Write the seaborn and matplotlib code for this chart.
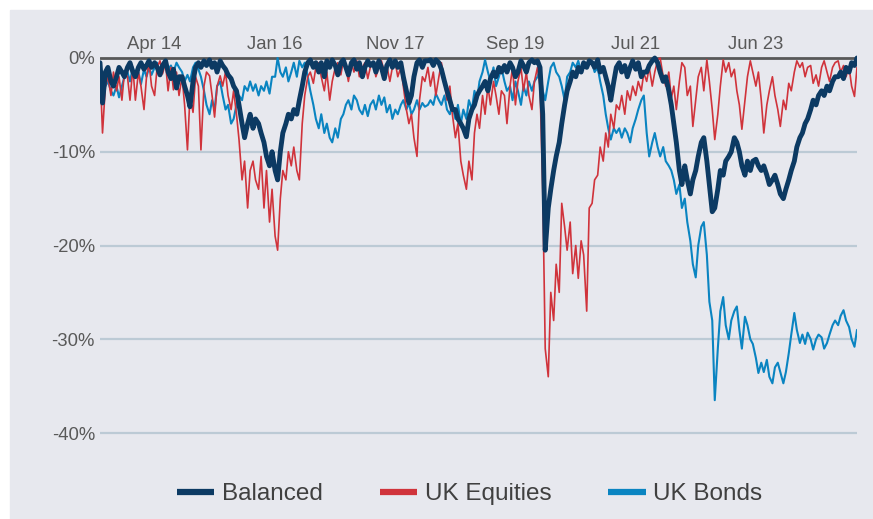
import pandas as pd
import matplotlib.pyplot as plt
import matplotlib.dates as mdates
from matplotlib.lines import Line2D
from matplotlib.ticker import FuncFormatter
import seaborn as sns

# drawdowns in % at semi-monthly steps (1st / 15th of each month)
start_date = '2013-06-01'

balanced = [
    -0.5, -4.8, -1.5, -1, -2.5, -3, -2, -1, -1.5, -2,
    -1, -0.5, -1.5, -2, -1, -0.5, -1.2, -0.8, -0.3, -1,
    -0.5, -1, -1.8, -0.8, -0.3, -1.5, -2.2, -1.2, -3.2, -2,
    -2, -3, -4, -5.2, -2.5, -1, -0.5, -1, -0.3, -0.8,
    -0.2, -1, -0.5, -1.5, -0.3, -0.8, -1.2, -1.8, -2.2, -3,
    -3.5, -5, -7, -8.5, -7, -6, -7.5, -6.5, -7, -8,
    -9, -10.5, -11.5, -10, -12, -13, -10, -8, -7, -6,
    -6.5, -5.5, -6, -4.5, -3, -1.5, -0.5, -0.2, -1, -0.5,
    -1.5, -0.5, -2, -0.3, -1, -0.2, -0.8, -1.8, -0.5, -0.2,
    -1, -1.8, -0.5, -0.2, -1.2, -0.5, -2, -1, -0.3, -0.8,
    -0.5, -1.5, -0.3, -1, -2.2, -0.8, -0.2, -1, -0.3, -1,
    -0.5, -2, -3.5, -4.8, -4, -2, -0.5, -0.2, -1, -0.3,
    -0.3, -0.2, -0.8, -0.2, -0.5, -1.2, -2.5, -3.5, -4.5, -5.5,
    -5.5, -6.5, -7, -7.5, -8.4, -6.5, -5.5, -5, -4, -3.5,
    -3, -2.5, -3.5, -2.2, -1.5, -2, -1, -1.5, -0.8, -1.5,
    -0.5, -1, -2, -1.5, -0.3, -0.8, -1.5, -0.5, -0.2, -0.5,
    -0.3, -1, -6, -20.5, -16, -14, -12, -10.5, -9, -7,
    -5, -3.5, -2.5, -1.5, -2, -1, -1.5, -0.5, -1, -0.3,
    -0.5, -1, -0.2, -1.5, -1, -2, -3, -4.5, -2.5, -1,
    -0.5, -1.5, -0.8, -2, -1, -0.3, -1.2, -0.5, -2, -1.5,
    -1.5, -0.8, -0.3, 0, -0.5, -1.5, -2.5, -2, -3.5, -5,
    -7, -9, -12, -13.5, -11.5, -13, -14.5, -13, -12, -10.5,
    -9, -8.5, -11, -13.5, -16.4, -16, -14, -12, -12.5, -11,
    -10.5, -10, -8.5, -9, -10, -11.5, -12.5, -11, -12, -11,
    -10.8, -11.5, -12, -11.5, -12.5, -13.5, -13, -12.5, -13.5, -14.5,
    -15, -14, -13, -12, -11, -9.5, -8.5, -8, -7, -6.5,
    -5.5, -4.5, -5, -4, -3.5, -4, -3, -3.5, -2.5, -2,
    -2, -1.5, -2.2, -1, -1.5, -0.5, -0.8, 0,
]

uk_equities = [
    -1, -8, -3, -2, -4, -1.5, -3.5, -2, -4.5, -1.5,
    -2, -4.5, -1, -4.5, -1.5, -3, -5.5, -2, -0.5, -3,
    -4, -1, -0.3, -1.7, -0.5, -3.5, -1, -3.4, -1.5, -4,
    -2, -5, -9.8, -4, -5.8, -2, -3, -9.8, -3, -1.5,
    -1.9, -4, -6.3, -3, -1.9, -3, -1.5, -4, -5.5, -3.5,
    -6, -8.7, -13, -11, -16, -12, -11, -13, -14, -10.5,
    -16, -12, -17.5, -14, -19, -20.5, -15, -12, -13, -10,
    -11.5, -9.5, -12, -13, -7, -4, -2, -1.5, -2.7, -1,
    -0.5, -2, -3.5, -1.5, -4.5, -2.5, -1, -0.5, -1.8, -0.3,
    -1, -2.5, -0.5, -1.5, -0.3, -2, -1, -0.5, -2.2, -1,
    -0.5, -2, -1, -0.3, -1.5, -0.8, -2.5, -1, -0.5, -2,
    -1, -3, -5.5, -7, -6, -8.5, -10.5, -4.5, -2, -2.5,
    -1, -3, -1.5, -4, -2, -0.5, -2.5, -4.5, -3, -6,
    -8.5, -7, -11, -12.5, -14, -11, -13, -8, -6, -7.5,
    -4, -6, -3, -5, -2.5, -4, -6, -3.5, -4, -7,
    -3, -1, -5, -2.5, -1, -3.5, -1.5, -4, -5.5, -2.5,
    -1, -3, -14, -31, -34, -25, -28, -22, -25, -15.5,
    -18, -20.5, -17.5, -23, -20, -23.5, -19.5, -21, -27, -16,
    -15.5, -13, -12.5, -9.5, -11, -8, -9.5, -6, -7.5, -5,
    -5.5, -4, -6, -3.5, -4.5, -3, -4, -2.5, -3.5, -1.6,
    -2.5, -1, -3, -1.5, -0.2, 0, -2, -3, -1.5, -4.3,
    -3, -5.5, -2.5, -0.5, -1, -4, -3, -7.3, -4.5, -2,
    -1, -3.5, -0.2, -2.5, -5.5, -8.7, -6, -3, -0.2, -1.5,
    -0.5, -2, -1.2, -3.5, -5, -7.6, -4.5, -2, -0.3, -1.5,
    -3, -1.5, -4.5, -8, -5, -3.5, -2, -4, -5.5, -7.3,
    -4.5, -5.5, -2.7, -3.5, -1.5, -0.3, -1, -0.5, -2, -1,
    -0.8, -2.7, -1.8, -3, -1, -0.3, -1.5, -2.5, -1, -0.5,
    -0.3, -1.5, -0.8, -2, -1, -3, -4.1, -1,
]

uk_bonds = [
    -0.5, -2, -3, -2.5, -3.5, -4, -3, -4.2, -3, -2,
    -1.5, -2.5, -1, -2, -1.5, -2.8, -1.2, -2, -1, -1.8,
    -1, -0.5, -1.5, -1, -0.3, -1.2, -0.8, -1.5, -0.5, -1,
    -1.5, -2.5, -1.8, -2.5, -1, -0.5, -1.2, -2, -3.5, -5,
    -6, -4.5, -5.5, -3, -2.5, -4, -5.5, -5, -7, -6.5,
    -5, -4, -4.5, -3, -3.5, -2.5, -3.5, -2.8, -4, -3,
    -3.5, -2.5, -3.8, -2, -2, 0, -1.5, -2, -1, -2.5,
    -1.5, -0.5, -2, -0.3, -1, -0.5, -2, -3.5, -5, -6.5,
    -7.5, -6, -8, -7, -8.5, -9, -7.5, -8.5, -6.5, -6,
    -5, -4.5, -5.5, -4, -4.5, -5.5, -6, -5, -6.2, -5,
    -4.5, -5.5, -4, -5, -4.2, -5.8, -5, -6.5, -5.5, -6,
    -5, -4.5, -5.5, -4.8, -6, -5.5, -4.5, -5.5, -4.8, -5.2,
    -5, -4.5, -5, -3.8, -4.5, -5, -4, -5.5, -6, -5,
    -6.5, -5, -7, -5.5, -6.5, -4.5, -5.5, -3.5, -4.5, -2.5,
    -1.5, -0.2, -1.5, -2.5, -1, -3, -2, -1, -2.5, -3.5,
    -3, -4.5, -2.5, -3.5, -5, -3, -4, -2.5, -3.5, -2.5,
    -2, -1, -3.5, -4.5, -2.5, -1, -0.5, -1.5, -2, -3,
    -4.5, -2, -1.5, -0.5, -1, -0.3, -1.5, -0.5, -1, -0.2,
    -0.5, -1.5, -1, -2.5, -4, -6, -7.5, -8.7, -7.5, -8,
    -7.5, -8.5, -7.5, -8, -9, -7.5, -6.5, -5.5, -4.5, -4,
    -8, -10.5, -9, -8, -9.5, -10.5, -9.5, -11, -11.5, -12,
    -13, -14.5, -13.5, -16, -15, -17.5, -19.5, -22, -23.4, -20,
    -18, -17.5, -21, -26, -28, -36.5, -31, -27, -25.5, -28.5,
    -30, -28, -27, -26.5, -29, -31, -27.6, -28.5, -30, -30.5,
    -32, -33.6, -32.5, -33.5, -32.2, -34, -34.7, -33, -32.5, -33.5,
    -34.7, -33.5, -31.5, -29.5, -27.2, -29, -30.4, -29.5, -30.5, -29.3,
    -30, -31.1, -30, -29.5, -29.8, -31, -30.4, -29.5, -28.5, -28,
    -28.5, -27.5, -26.9, -28, -28.7, -30, -30.8, -29,
]

series_names = ['Balanced', 'UK Equities', 'UK Bonds']
tick_dates = ['2014-04-01', '2016-01-31', '2017-11-30', '2019-09-30', '2021-07-30', '2023-06-01']
y_ticks = [0, -10, -20, -30, -40]

dates = pd.date_range(start_date, periods=len(balanced), freq='SMS')
df = pd.DataFrame({'Date': dates, 'Balanced': balanced,
                   'UK Equities': uk_equities, 'UK Bonds': uk_bonds})
long_df = df.melt(id_vars='Date', var_name='Series', value_name='Drawdown')

sns.set_style('white')
plt.rcParams['font.family'] = ['Liberation Sans', 'DejaVu Sans']

bg = '#e7e8ee'
colors = {'Balanced': '#0c3a63', 'UK Equities': '#d0333b', 'UK Bonds': '#0a84c1'}
widths = {'Balanced': 3.5, 'UK Equities': 1.2, 'UK Bonds': 1.5}

fig = plt.figure(figsize=(8.73, 5.19), dpi=100, facecolor='white')
fig.add_artist(plt.Rectangle((10 / 873, 0), 1, 1 - 10 / 519, transform=fig.transFigure,
                             color=bg, zorder=-1))

# place the plot area so 0% sits at y=58px and -40% at y=433px
px_per = (433 - 58) / 40
ymin, ymax = -40.3, 0.5
top_px = 58 - ymax * px_per
bottom_px = 433 + (-40 - ymin) * px_per
ax = fig.add_axes([100 / 873, 1 - bottom_px / 519, 757 / 873, (bottom_px - top_px) / 519])
ax.set_facecolor(bg)

for y in y_ticks[1:]:
    ax.axhline(y, color='#bccad5', lw=1.6, zorder=0.5)
ax.axhline(0, color='#585858', lw=2.0, zorder=1.5)

# bonds first, balanced on top
for name in ['UK Bonds', 'UK Equities', 'Balanced']:
    sns.lineplot(data=long_df[long_df['Series'] == name], x='Date', y='Drawdown',
                 color=colors[name], lw=widths[name], ax=ax, legend=False)

ax.set_xlim(dates[0], dates[-1])
ax.set_ylim(ymin, ymax)
ax.xaxis.tick_top()
ax.set_xticks(pd.to_datetime(tick_dates))
ax.xaxis.set_major_formatter(mdates.DateFormatter('%b %y'))
ax.set_yticks(y_ticks)
ax.yaxis.set_major_formatter(FuncFormatter(lambda v, p: f'{v:.0f}%'))
ax.tick_params(axis='x', length=0, pad=0, labelsize=13.3, labelcolor='#595959')
ax.tick_params(axis='y', length=0, pad=3.6, labelsize=13.3, labelcolor='#595959')
ax.set_xlabel('')
ax.set_ylabel('')
ax.grid(False)
for s in ax.spines.values():
    s.set_visible(False)

handles = [Line2D([0], [0], color=colors[n], lw=4.5, solid_capstyle='butt') for n in series_names]
fig.legend(handles, series_names, loc='center', bbox_to_anchor=(0.538, 0.048), ncol=3,
           frameon=False, fontsize=17.5, handlelength=1.55, handletextpad=0.3,
           columnspacing=2.35, labelcolor='#404040')

fig.savefig('out.png', dpi=100, facecolor='white')
